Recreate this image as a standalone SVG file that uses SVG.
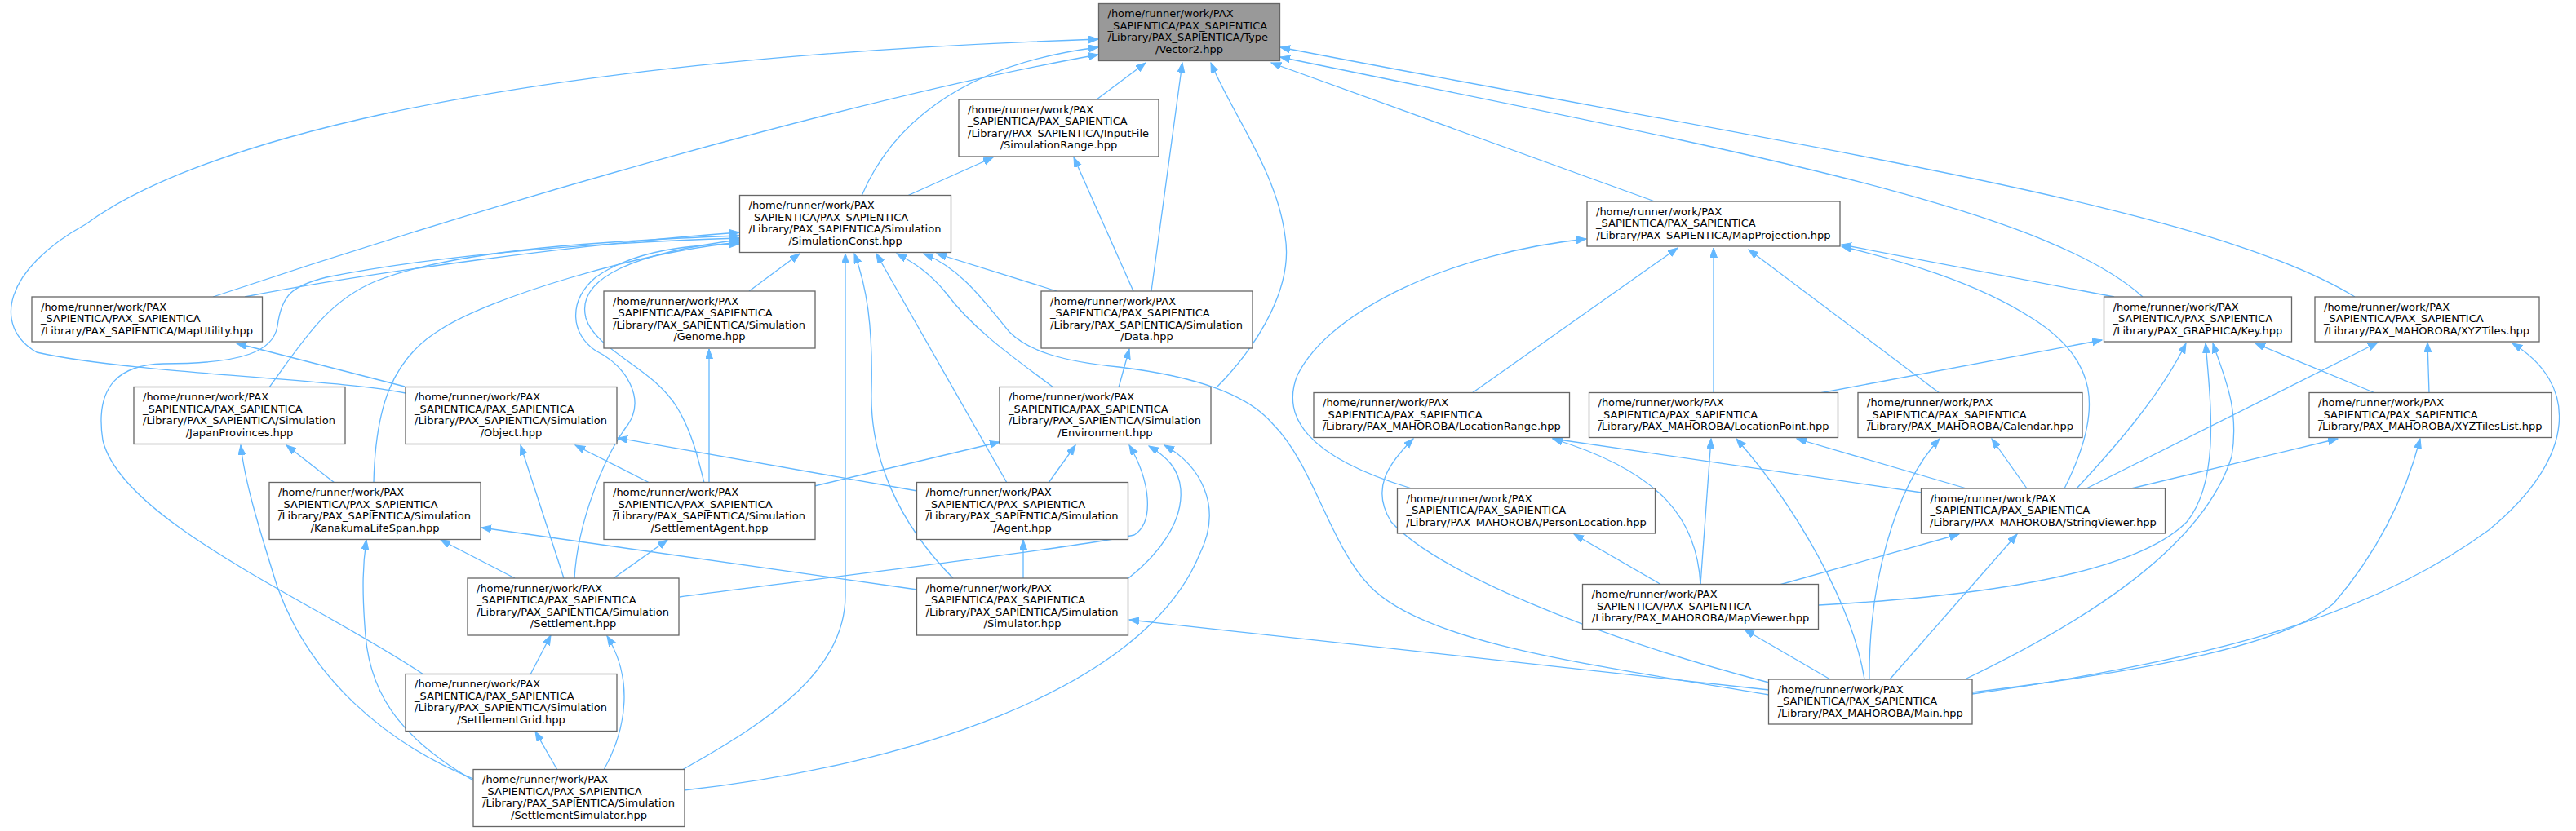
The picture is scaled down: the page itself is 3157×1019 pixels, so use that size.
<svg xmlns="http://www.w3.org/2000/svg" width="3157" height="1019" viewBox="0 0 3157 1019">
<style>
.node rect{fill:#ffffff;stroke:#666666;stroke-width:1.3}
.root rect{fill:#999999}
.node text{font-family:"DejaVu Sans","Liberation Sans",sans-serif;font-size:13px;fill:#000000}
.c{text-anchor:middle}
.edges path{fill:none;stroke:#63b8ff;stroke-width:1.3;marker-end:url(#ah)}
</style>
<defs>
<marker id="ah" markerWidth="13" markerHeight="10" refX="12" refY="4.5" orient="auto" markerUnits="userSpaceOnUse">
<path d="M0,0L12,4.5L0,9z" fill="#63b8ff" stroke="#63b8ff" stroke-width="1"/>
</marker>
</defs>
<rect width="3157" height="1019" fill="#ffffff"/>
<g class="edges">
<path d="M1344,122 L1404,77"/>
<path d="M1411,357 L1449,77"/>
<path d="M1491,475 C1545,420 1585,350 1575,290 C1565,210 1510,140 1484,77"/>
<path d="M1056,240 C1090,160 1170,80 1346,58"/>
<path d="M261,364 C600,250 1050,120 1346,67"/>
<path d="M497,482 C420,465 160,458 45,432 C-10,400 5,330 105,275 C220,190 550,75 1346,48"/>
<path d="M2028,247 L1558,77"/>
<path d="M2626,364 C2500,250 2100,180 1569,70"/>
<path d="M2886,364 C2700,250 2200,180 1569,58"/>
<path d="M1112,240 L1217,193"/>
<path d="M1389,357 L1316,193"/>
<path d="M918,357 L980,311"/>
<path d="M836,944 C950,880 1036,820 1036,730 L1036,311"/>
<path d="M1168,709 C1100,640 1066,560 1068,480 C1070,400 1062,350 1047,311"/>
<path d="M1234,592 L1074,311"/>
<path d="M1291,475 C1230,430 1190,400 1160,360 C1140,335 1120,322 1099,311"/>
<path d="M2168,852 C1950,815 1750,790 1680,720 C1630,670 1610,570 1560,520 C1530,485 1470,462 1371,450 C1300,443 1260,430 1237,407 C1210,375 1180,330 1132,311"/>
<path d="M1295,357 L1148,311"/>
<path d="M300,364 C450,335 700,300 906,285"/>
<path d="M519,827 C390,740 150,640 126,540 C115,470 150,447 200,446 C300,446 335,430 340,400 C345,360 360,350 400,340 C550,310 750,297 906,292"/>
<path d="M330,475 C370,420 400,370 460,345 C560,305 750,295 906,289"/>
<path d="M458,592 C460,500 480,440 540,404 C600,365 780,310 906,297"/>
<path d="M704,709 C708,640 740,560 770,520 C790,490 770,450 730,430 C700,410 695,370 730,340 C780,305 850,300 906,299"/>
<path d="M863,592 C855,560 848,530 830,500 C800,450 730,430 718,390 C705,340 780,310 906,294"/>
<path d="M869,592 L869,428"/>
<path d="M496,474 L290,421"/>
<path d="M691,709 L638,546"/>
<path d="M796,592 L705,546"/>
<path d="M1124,602 L757,537"/>
<path d="M410,592 L351,546"/>
<path d="M580,955 C470,910 380,830 340,720 C315,640 300,590 295,546"/>
<path d="M580,957 C500,910 455,860 448,780 C443,720 445,690 449,662"/>
<path d="M631,709 L540,662"/>
<path d="M1124,723 L590,647"/>
<path d="M752,709 L818,662"/>
<path d="M833,732 C1000,710 1330,670 1390,656 C1415,640 1410,590 1384,546"/>
<path d="M998,596 L1225,542"/>
<path d="M1285,592 L1318,546"/>
<path d="M1383,709 C1420,680 1450,640 1447,600 C1445,575 1430,560 1408,547"/>
<path d="M838,969 C1100,940 1400,850 1470,680 C1500,620 1470,570 1427,546"/>
<path d="M1371,475 L1384,428"/>
<path d="M1254,709 L1254,662"/>
<path d="M2168,846 L1384,760"/>
<path d="M650,827 L675,779"/>
<path d="M740,944 C770,890 775,830 744,780"/>
<path d="M683,944 L656,897"/>
<path d="M1730,599 C1600,560 1570,510 1590,460 C1630,380 1780,310 1944,293"/>
<path d="M1804,482 L2056,304"/>
<path d="M2100,482 L2100,304"/>
<path d="M2377,482 L2143,306"/>
<path d="M2591,364 L2257,300"/>
<path d="M2530,599 C2580,500 2570,440 2490,390 C2420,345 2330,320 2257,302"/>
<path d="M2230,482 L2576,417"/>
<path d="M2545,599 C2600,540 2650,480 2679,421"/>
<path d="M2229,742 C2450,730 2620,700 2680,640 C2720,590 2710,500 2703,421"/>
<path d="M2408,833 C2560,760 2700,670 2735,560 C2745,500 2725,460 2712,421"/>
<path d="M2911,482 L2764,421"/>
<path d="M2557,599 L2914,420"/>
<path d="M2977,482 L2975,420"/>
<path d="M2417,851 C2700,810 2900,760 3050,650 C3160,560 3160,470 3079,421"/>
<path d="M2612,599 L2865,538"/>
<path d="M2417,849 C2650,820 2800,790 2860,740 C2920,670 2950,600 2966,538"/>
<path d="M2291,833 C2290,720 2320,600 2377,538"/>
<path d="M2484,599 L2441,538"/>
<path d="M2084,717 L2097,538"/>
<path d="M2285,833 C2270,740 2200,620 2128,538"/>
<path d="M2410,599 L2202,538"/>
<path d="M2168,837 C1950,780 1760,700 1705,640 C1680,600 1700,570 1732,538"/>
<path d="M2084,717 C2080,640 2040,580 1903,538"/>
<path d="M2355,604 L1903,538"/>
<path d="M2036,717 L1929,655"/>
<path d="M2181,717 L2401,655"/>
<path d="M2316,833 L2472,655"/>
<path d="M2243,833 L2138,772"/>
</g>
<g id="n_vector2" class="node root"><rect x="1346.5" y="4.5" width="222" height="70"/><text><tspan x="1357.5" y="21">/home/runner/work/PAX</tspan><tspan x="1357.5" y="35.5">_SAPIENTICA/PAX_SAPIENTICA</tspan><tspan x="1357.5" y="50">/Library/PAX_SAPIENTICA/Type</tspan><tspan class="c" x="1457.5" y="64.5">/Vector2.hpp</tspan></text></g>
<g id="n_simulationrange" class="node"><rect x="1175" y="122" width="245" height="70"/><text><tspan x="1186" y="138.5">/home/runner/work/PAX</tspan><tspan x="1186" y="153">_SAPIENTICA/PAX_SAPIENTICA</tspan><tspan x="1186" y="167.5">/Library/PAX_SAPIENTICA/InputFile</tspan><tspan class="c" x="1297.5" y="182">/SimulationRange.hpp</tspan></text></g>
<g id="n_simulationconst" class="node"><rect x="906.5" y="239.5" width="259" height="70"/><text><tspan x="917.5" y="256">/home/runner/work/PAX</tspan><tspan x="917.5" y="270.5">_SAPIENTICA/PAX_SAPIENTICA</tspan><tspan x="917.5" y="285">/Library/PAX_SAPIENTICA/Simulation</tspan><tspan class="c" x="1036" y="299.5">/SimulationConst.hpp</tspan></text></g>
<g id="n_mapprojection" class="node"><rect x="1945" y="247" width="310" height="55"/><text><tspan x="1956" y="263.5">/home/runner/work/PAX</tspan><tspan x="1956" y="278">_SAPIENTICA/PAX_SAPIENTICA</tspan><tspan class="c" x="2100" y="292.5">/Library/PAX_SAPIENTICA/MapProjection.hpp</tspan></text></g>
<g id="n_maputility" class="node"><rect x="39" y="364" width="282.5" height="55"/><text><tspan x="50" y="380.5">/home/runner/work/PAX</tspan><tspan x="50" y="395">_SAPIENTICA/PAX_SAPIENTICA</tspan><tspan class="c" x="180.25" y="409.5">/Library/PAX_SAPIENTICA/MapUtility.hpp</tspan></text></g>
<g id="n_genome" class="node"><rect x="740" y="357" width="259" height="70"/><text><tspan x="751" y="373.5">/home/runner/work/PAX</tspan><tspan x="751" y="388">_SAPIENTICA/PAX_SAPIENTICA</tspan><tspan x="751" y="402.5">/Library/PAX_SAPIENTICA/Simulation</tspan><tspan class="c" x="869.5" y="417">/Genome.hpp</tspan></text></g>
<g id="n_data" class="node"><rect x="1276" y="357" width="259" height="70"/><text><tspan x="1287" y="373.5">/home/runner/work/PAX</tspan><tspan x="1287" y="388">_SAPIENTICA/PAX_SAPIENTICA</tspan><tspan x="1287" y="402.5">/Library/PAX_SAPIENTICA/Simulation</tspan><tspan class="c" x="1405.5" y="417">/Data.hpp</tspan></text></g>
<g id="n_key" class="node"><rect x="2578.5" y="364" width="230" height="55"/><text><tspan x="2589.5" y="380.5">/home/runner/work/PAX</tspan><tspan x="2589.5" y="395">_SAPIENTICA/PAX_SAPIENTICA</tspan><tspan class="c" x="2693.5" y="409.5">/Library/PAX_GRAPHICA/Key.hpp</tspan></text></g>
<g id="n_xyztiles" class="node"><rect x="2837" y="364" width="275" height="55"/><text><tspan x="2848" y="380.5">/home/runner/work/PAX</tspan><tspan x="2848" y="395">_SAPIENTICA/PAX_SAPIENTICA</tspan><tspan class="c" x="2974.5" y="409.5">/Library/PAX_MAHOROBA/XYZTiles.hpp</tspan></text></g>
<g id="n_japanprovinces" class="node"><rect x="164" y="474.5" width="259" height="70"/><text><tspan x="175" y="491">/home/runner/work/PAX</tspan><tspan x="175" y="505.5">_SAPIENTICA/PAX_SAPIENTICA</tspan><tspan x="175" y="520">/Library/PAX_SAPIENTICA/Simulation</tspan><tspan class="c" x="293.5" y="534.5">/JapanProvinces.hpp</tspan></text></g>
<g id="n_object" class="node"><rect x="497" y="474.5" width="259" height="70"/><text><tspan x="508" y="491">/home/runner/work/PAX</tspan><tspan x="508" y="505.5">_SAPIENTICA/PAX_SAPIENTICA</tspan><tspan x="508" y="520">/Library/PAX_SAPIENTICA/Simulation</tspan><tspan class="c" x="626.5" y="534.5">/Object.hpp</tspan></text></g>
<g id="n_environment" class="node"><rect x="1225" y="474.5" width="259" height="70"/><text><tspan x="1236" y="491">/home/runner/work/PAX</tspan><tspan x="1236" y="505.5">_SAPIENTICA/PAX_SAPIENTICA</tspan><tspan x="1236" y="520">/Library/PAX_SAPIENTICA/Simulation</tspan><tspan class="c" x="1354.5" y="534.5">/Environment.hpp</tspan></text></g>
<g id="n_locationrange" class="node"><rect x="1610" y="481.5" width="313.5" height="55"/><text><tspan x="1621" y="498">/home/runner/work/PAX</tspan><tspan x="1621" y="512.5">_SAPIENTICA/PAX_SAPIENTICA</tspan><tspan class="c" x="1766.75" y="527">/Library/PAX_MAHOROBA/LocationRange.hpp</tspan></text></g>
<g id="n_locationpoint" class="node"><rect x="1947.5" y="481.5" width="305" height="55"/><text><tspan x="1958.5" y="498">/home/runner/work/PAX</tspan><tspan x="1958.5" y="512.5">_SAPIENTICA/PAX_SAPIENTICA</tspan><tspan class="c" x="2100" y="527">/Library/PAX_MAHOROBA/LocationPoint.hpp</tspan></text></g>
<g id="n_calendar" class="node"><rect x="2277" y="481.5" width="275" height="55"/><text><tspan x="2288" y="498">/home/runner/work/PAX</tspan><tspan x="2288" y="512.5">_SAPIENTICA/PAX_SAPIENTICA</tspan><tspan class="c" x="2414.5" y="527">/Library/PAX_MAHOROBA/Calendar.hpp</tspan></text></g>
<g id="n_xyztileslist" class="node"><rect x="2830" y="481.5" width="297" height="55"/><text><tspan x="2841" y="498">/home/runner/work/PAX</tspan><tspan x="2841" y="512.5">_SAPIENTICA/PAX_SAPIENTICA</tspan><tspan class="c" x="2978.5" y="527">/Library/PAX_MAHOROBA/XYZTilesList.hpp</tspan></text></g>
<g id="n_kanakumalifespan" class="node"><rect x="330" y="591.5" width="259" height="70"/><text><tspan x="341" y="608">/home/runner/work/PAX</tspan><tspan x="341" y="622.5">_SAPIENTICA/PAX_SAPIENTICA</tspan><tspan x="341" y="637">/Library/PAX_SAPIENTICA/Simulation</tspan><tspan class="c" x="459.5" y="651.5">/KanakumaLifeSpan.hpp</tspan></text></g>
<g id="n_settlementagent" class="node"><rect x="740" y="591.5" width="259" height="70"/><text><tspan x="751" y="608">/home/runner/work/PAX</tspan><tspan x="751" y="622.5">_SAPIENTICA/PAX_SAPIENTICA</tspan><tspan x="751" y="637">/Library/PAX_SAPIENTICA/Simulation</tspan><tspan class="c" x="869.5" y="651.5">/SettlementAgent.hpp</tspan></text></g>
<g id="n_agent" class="node"><rect x="1123.5" y="591.5" width="259" height="70"/><text><tspan x="1134.5" y="608">/home/runner/work/PAX</tspan><tspan x="1134.5" y="622.5">_SAPIENTICA/PAX_SAPIENTICA</tspan><tspan x="1134.5" y="637">/Library/PAX_SAPIENTICA/Simulation</tspan><tspan class="c" x="1253" y="651.5">/Agent.hpp</tspan></text></g>
<g id="n_personlocation" class="node"><rect x="1712.5" y="599" width="316" height="55"/><text><tspan x="1723.5" y="615.5">/home/runner/work/PAX</tspan><tspan x="1723.5" y="630">_SAPIENTICA/PAX_SAPIENTICA</tspan><tspan class="c" x="1870.5" y="644.5">/Library/PAX_MAHOROBA/PersonLocation.hpp</tspan></text></g>
<g id="n_stringviewer" class="node"><rect x="2354.5" y="599" width="299" height="55"/><text><tspan x="2365.5" y="615.5">/home/runner/work/PAX</tspan><tspan x="2365.5" y="630">_SAPIENTICA/PAX_SAPIENTICA</tspan><tspan class="c" x="2504" y="644.5">/Library/PAX_MAHOROBA/StringViewer.hpp</tspan></text></g>
<g id="n_settlement" class="node"><rect x="573" y="709" width="259" height="70"/><text><tspan x="584" y="725.5">/home/runner/work/PAX</tspan><tspan x="584" y="740">_SAPIENTICA/PAX_SAPIENTICA</tspan><tspan x="584" y="754.5">/Library/PAX_SAPIENTICA/Simulation</tspan><tspan class="c" x="702.5" y="769">/Settlement.hpp</tspan></text></g>
<g id="n_simulator" class="node"><rect x="1123.5" y="709" width="259" height="70"/><text><tspan x="1134.5" y="725.5">/home/runner/work/PAX</tspan><tspan x="1134.5" y="740">_SAPIENTICA/PAX_SAPIENTICA</tspan><tspan x="1134.5" y="754.5">/Library/PAX_SAPIENTICA/Simulation</tspan><tspan class="c" x="1253" y="769">/Simulator.hpp</tspan></text></g>
<g id="n_mapviewer" class="node"><rect x="1939.5" y="716.5" width="289" height="55"/><text><tspan x="1950.5" y="733">/home/runner/work/PAX</tspan><tspan x="1950.5" y="747.5">_SAPIENTICA/PAX_SAPIENTICA</tspan><tspan class="c" x="2084" y="762">/Library/PAX_MAHOROBA/MapViewer.hpp</tspan></text></g>
<g id="n_settlementgrid" class="node"><rect x="497" y="826.5" width="259" height="70"/><text><tspan x="508" y="843">/home/runner/work/PAX</tspan><tspan x="508" y="857.5">_SAPIENTICA/PAX_SAPIENTICA</tspan><tspan x="508" y="872">/Library/PAX_SAPIENTICA/Simulation</tspan><tspan class="c" x="626.5" y="886.5">/SettlementGrid.hpp</tspan></text></g>
<g id="n_main" class="node"><rect x="2167.5" y="833" width="249.5" height="55"/><text><tspan x="2178.5" y="849.5">/home/runner/work/PAX</tspan><tspan x="2178.5" y="864">_SAPIENTICA/PAX_SAPIENTICA</tspan><tspan class="c" x="2292.25" y="878.5">/Library/PAX_MAHOROBA/Main.hpp</tspan></text></g>
<g id="n_settlementsimulator" class="node"><rect x="580" y="943.5" width="259" height="70"/><text><tspan x="591" y="960">/home/runner/work/PAX</tspan><tspan x="591" y="974.5">_SAPIENTICA/PAX_SAPIENTICA</tspan><tspan x="591" y="989">/Library/PAX_SAPIENTICA/Simulation</tspan><tspan class="c" x="709.5" y="1003.5">/SettlementSimulator.hpp</tspan></text></g>
</svg>
